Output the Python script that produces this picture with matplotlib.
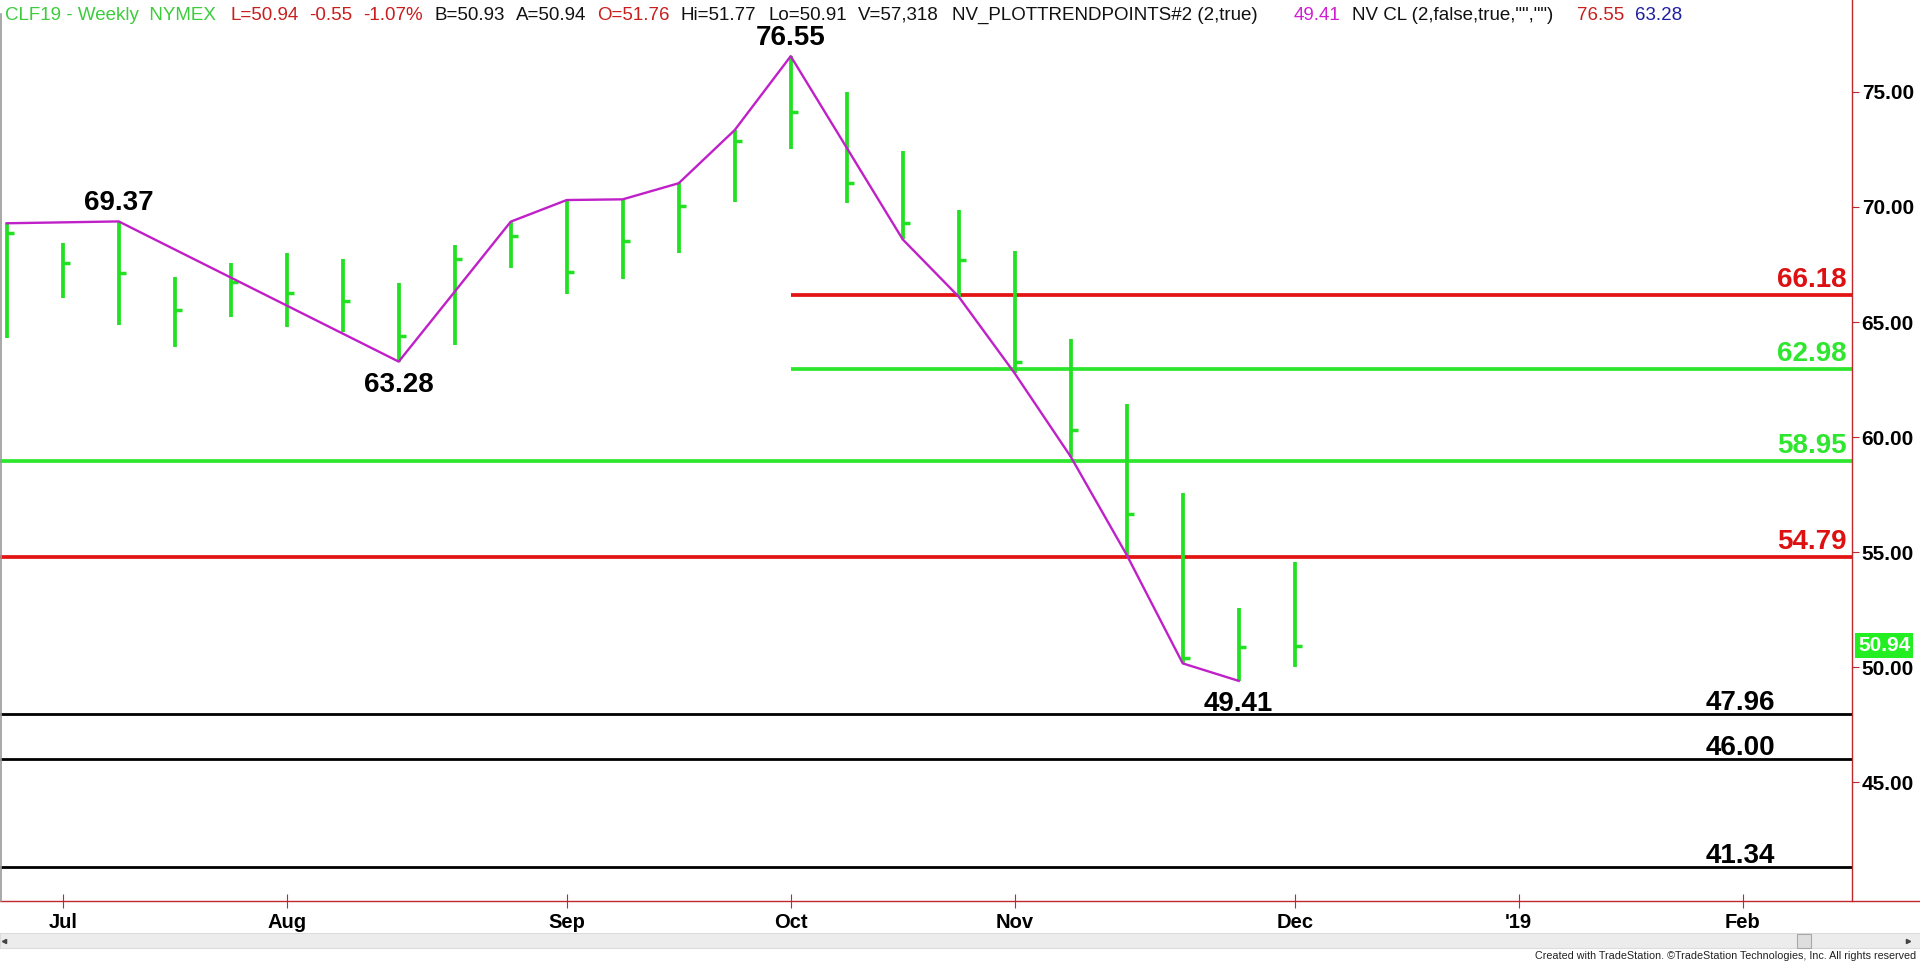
import matplotlib
matplotlib.use('Agg')
import matplotlib.pyplot as plt
import matplotlib.dates as mdates
from matplotlib import font_manager
from matplotlib.lines import Line2D
from matplotlib.patches import Rectangle
import pandas as pd

# ---------------- data ----------------
week_start = '2018-06-29'
highs = [69.29, 68.42, 69.37, 66.97, 67.55, 67.99, 67.72, 66.68, 68.35, 69.36,
         70.30, 70.33, 71.03, 73.34, 76.55, 75.01, 72.45, 69.87, 68.10, 64.26,
         61.44, 57.56, 52.56, 54.56]
lows = [64.29, 66.03, 64.87, 63.93, 65.23, 64.80, 64.55, 63.28, 64.00, 67.33,
        66.20, 66.86, 67.99, 70.23, 72.50, 70.16, 68.59, 66.10, 62.77, 59.15,
        54.88, 50.17, 49.41, 50.03]
closes = [68.85, 67.55, 67.12, 65.52, 66.75, 66.25, 65.91, 64.39, 67.72, 68.72,
          67.16, 68.52, 70.04, 72.85, 74.11, 71.03, 69.29, 67.69, 63.25, 60.31,
          56.66, 50.39, 50.90, 50.94]
dates = pd.date_range(week_start, periods=len(highs), freq='7D')

# zig-zag trend points: bar index and whether it uses the high (H) or low (L)
trend_idx = [0, 2, 7, 9, 10, 11, 12, 13, 14, 16, 17, 18, 19, 20, 21, 22]
trend_kind = 'HHLHHHHHHLLLLLLL'

# pivot labels (bar index, text, above/below)
pivot_labels = [(2, '69.37', 'above'), (7, '63.28', 'below'),
                (14, '76.55', 'above'), (22, '49.41', 'below')]

# horizontal levels
red_levels = [66.18, 54.79]
red_start = [14, None]
green_levels = [62.98, 58.95]
green_start = [14, None]
black_levels = [47.96, 46.00, 41.34]

month_dates = ['2018-07-06', '2018-08-03', '2018-09-07', '2018-10-05',
               '2018-11-02', '2018-12-07', '2019-01-04', '2019-02-01']
month_labels = ['Jul', 'Aug', 'Sep', 'Oct', 'Nov', 'Dec', "'19", 'Feb']
y_ticks = [45, 50, 55, 60, 65, 70, 75]
last_price = 50.94

header = [('CLF19 - Weekly  NYMEX', 'green'), ('L=50.94', 'red'), ('-0.55', 'red'),
          ('-1.07%', 'red'), ('B=50.93', 'black'), ('A=50.94', 'black'),
          ('O=51.76', 'red'), ('Hi=51.77', 'black'), ('Lo=50.91', 'black'),
          ('V=57,318', 'black'), ('NV_PLOTTRENDPOINTS#2 (2,true)', 'black'),
          ('49.41', 'magenta'), ('NV CL (2,false,true,"","")', 'black'),
          ('76.55', 'red'), ('63.28', 'blue')]
header_x = [5, 230, 309, 363, 434, 516, 597, 681, 768, 858, 952, 1294, 1352, 1577, 1635]
credit = 'Created with TradeStation. \u00a9TradeStation Technologies, Inc. All rights reserved'

# ---------------- style ----------------
W, H = 1920, 964
names = {f.name for f in font_manager.fontManager.ttflist}
SANS = 'Liberation Sans' if 'Liberation Sans' in names else 'DejaVu Sans'
NARROW = 'Liberation Sans Narrow' if 'Liberation Sans Narrow' in names else SANS
plt.rcParams['font.family'] = [SANS, 'DejaVu Sans']

BAR_GREEN = '#22e022'
LVL_GREEN = '#2ee62e'
LVL_RED = '#e31414'
AX_RED = '#c0282d'
MAGENTA = '#c020c8'
hdr_colors = {'green': '#3ccc3c', 'red': '#c81e1e', 'black': '#111111',
              'magenta': '#d21ed2', 'blue': '#1e1ea0'}

fig = plt.figure(figsize=(W / 100, H / 100), dpi=100)
fig.patch.set_facecolor('white')
ax_bottom_px = 900.7
ax_right_px = 1852
ax = fig.add_axes([0, (H - ax_bottom_px) / H, ax_right_px / W, ax_bottom_px / H])
ax.set_facecolor('white')

x = mdates.date2num(dates)
day0 = x[0]
ax.set_xlim(day0 - 0.84, day0 + 230.66)
ax.set_ylim(39.86, 78.99)

# bars
ax.vlines(x, lows, highs, color=BAR_GREEN, lw=2.7, zorder=3)
ax.hlines(closes, x, x + 0.85, color=BAR_GREEN, lw=2.5, zorder=3)

# levels
xl, xr = ax.get_xlim()
for lv, st in zip(red_levels, red_start):
    ax.hlines(lv, x[st] if st is not None else xl, xr, color=LVL_RED, lw=2.7, zorder=2)
    ax.annotate(f'{lv:.2f}', xy=(1, lv), xycoords=('axes fraction', 'data'),
                xytext=(-5, 8), textcoords='offset pixels', ha='right', va='baseline',
                fontsize=20, fontweight='bold', color='#dd1111', annotation_clip=False)
for lv, st in zip(green_levels, green_start):
    ax.hlines(lv, x[st] if st is not None else xl, xr, color=LVL_GREEN, lw=2.7, zorder=2)
    ax.annotate(f'{lv:.2f}', xy=(1, lv), xycoords=('axes fraction', 'data'),
                xytext=(-5, 8), textcoords='offset pixels', ha='right', va='baseline',
                fontsize=20, fontweight='bold', color=LVL_GREEN, annotation_clip=False)
for lv in black_levels:
    ax.hlines(lv, xl, xr, color='black', lw=2.0, zorder=2)
    ax.annotate(f'{lv:.2f}', xy=(1, lv), xycoords=('axes fraction', 'data'),
                xytext=(-77, 4), textcoords='offset pixels', ha='right', va='baseline',
                fontsize=20, fontweight='bold', color='black', annotation_clip=False)

# trend line
tv = [highs[i] if k == 'H' else lows[i] for i, k in zip(trend_idx, trend_kind)]
ax.plot(x[trend_idx], tv, color=MAGENTA, lw=1.7, zorder=4)

for i, txt, pos in pivot_labels:
    if pos == 'above':
        ax.annotate(txt, xy=(x[i], highs[i]), xytext=(0, 11), textcoords='offset pixels',
                    ha='center', va='baseline', fontsize=20, fontweight='bold', color='black')
    else:
        ax.annotate(txt, xy=(x[i], lows[i]), xytext=(0, -10), textcoords='offset pixels',
                    ha='center', va='top', fontsize=20, fontweight='bold', color='black')

# axes styling
for s in ['left', 'top', 'bottom']:
    ax.spines[s].set_visible(False)
ax.spines['right'].set_color(AX_RED)
ax.spines['right'].set_linewidth(1.0)

ax.yaxis.tick_right()
ax.set_yticks(y_ticks)
ax.set_yticklabels([f'{v:.2f}' for v in y_ticks])
ax.tick_params(axis='y', which='both', direction='out', length=5, width=0.8,
               color=AX_RED, labelcolor='black', labelsize=15, pad=2)
for lab in ax.get_yticklabels():
    lab.set_fontweight('bold')

ax.set_xticks(mdates.date2num(pd.to_datetime(month_dates)))
ax.set_xticklabels(month_labels)
ax.tick_params(axis='x', direction='inout', length=10, width=0.8, color=AX_RED,
               labelcolor='black', labelsize=14.5, pad=4)
for lab in ax.get_xticklabels():
    lab.set_fontweight('bold')

# last price box
ax.annotate(f'{last_price:.2f}', xy=(1, last_price), xycoords=('axes fraction', 'data'),
            xytext=(6, 0), textcoords='offset pixels', ha='left', va='center',
            fontsize=15, fontweight='bold', color='white', annotation_clip=False,
            bbox=dict(boxstyle='square,pad=0.15', fc='#22ee22', ec='none'), zorder=10)

# frame lines
yb = (H - ax_bottom_px) / H
fig.add_artist(Line2D([0, 1], [yb, yb], transform=fig.transFigure, color=AX_RED, lw=1.0))
fig.add_artist(Line2D([1 / W, 1 / W], [yb, 1 - 14 / H], transform=fig.transFigure,
                      color='#9a9a9a', lw=1.2))

# header
for (txt, c), hx in zip(header, header_x):
    fig.text(hx / W, 1 - 20 / H, txt, ha='left', va='baseline', fontsize=13.5,
             color=hdr_colors[c])

# scrollbar
fig.add_artist(Rectangle((0, (H - 948) / H), 1, 15 / H, transform=fig.transFigure,
                         fc='#ececec', ec='#dcdcdc', lw=0.8))
fig.add_artist(Rectangle((1797 / W, (H - 948) / H), 14 / W, 14 / H, transform=fig.transFigure,
                         fc='#dedede', ec='#a8a8a8', lw=0.8))
fig.add_artist(Line2D([1908 / W], [(H - 941) / H], transform=fig.transFigure,
                      marker='>', ms=3, color='#444444', lw=0))
fig.add_artist(Line2D([4 / W], [(H - 941) / H], transform=fig.transFigure,
                      marker='<', ms=3, color='#444444', lw=0))

# credit
fig.text(1916 / W, (H - 956) / H, credit, ha='right', va='center',
         fontsize=9.5 if NARROW != SANS else 7.75, family=[NARROW, 'DejaVu Sans'],
         color='#222222')

fig.savefig('out.png', dpi=100, facecolor='white')
